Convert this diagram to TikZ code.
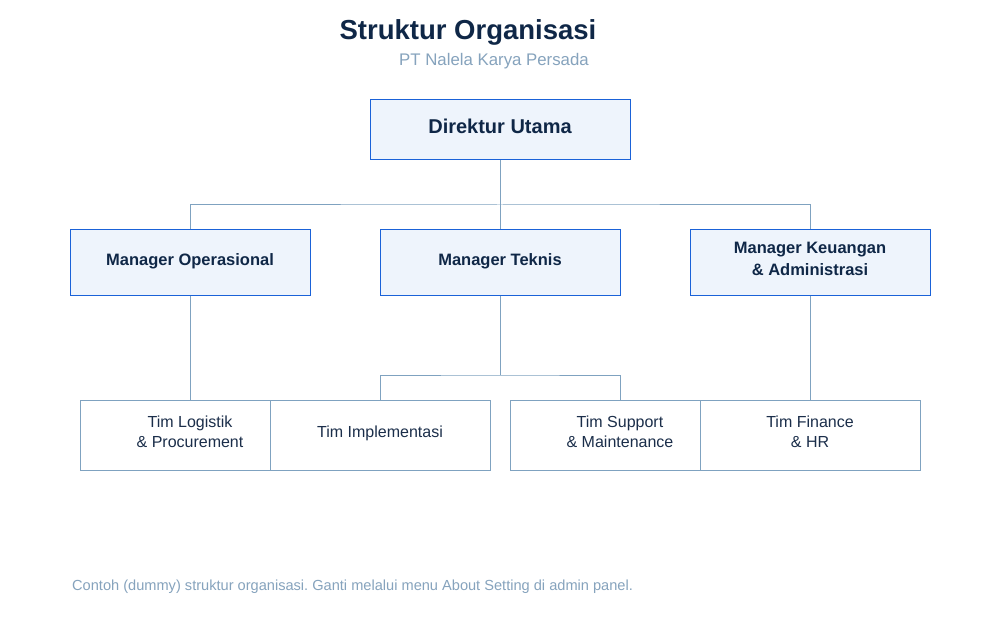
\documentclass[tikz,border=0pt]{standalone}
\usepackage{fontspec}
\setmainfont{Liberation Sans}
\frenchspacing
\definecolor{navy}{HTML}{0F2747}
\definecolor{boxfill}{HTML}{EEF4FC}
\definecolor{boxline}{HTML}{1A62D8}
\definecolor{conn}{HTML}{7FA2C0}
\definecolor{subtle}{HTML}{86A3BD}
\definecolor{teamtext}{HTML}{1B2E4A}
\newcommand{\lift}[2]{\raisebox{#1}[\height][\depth]{#2}}
\newcommand{\twoline}[3]{\lift{#1}{\begin{tabular}{@{}c@{}}#2\\#3\end{tabular}}}
\begin{document}
\begin{tikzpicture}[x=1pt,y=-1pt,
  topbox/.style={draw=boxline,fill=boxfill,line width=1pt,inner sep=0pt,align=center,text=navy,font=\bfseries\fontsize{16.5}{22}\selectfont},
  teambox/.style={draw=conn,fill=white,line width=1pt,inner sep=0pt,minimum width=220pt,minimum height=70pt,align=center,text=teamtext,font=\fontsize{16}{20}\selectfont},
  link/.style={draw=conn,line width=1pt}]
\useasboundingbox (0,0) rectangle (1000,620);
\fill[white] (0,0) rectangle (1000,620);
% titles
\node[font=\bfseries\fontsize{27.5}{32}\selectfont,text=navy] (title) at (468,32) {Struktur Organisasi};
\node[font=\fontsize{16.8}{20}\selectfont,text=subtle] (sub) at (494,61) {PT Nalela Karya Persada};
% top
\node[topbox,minimum width=260pt,minimum height=60pt,font=\bfseries\fontsize{20}{24}\selectfont] (dir) at (500,130) {\lift{4pt}{Direktur Utama}};
\node[topbox,minimum width=240pt,minimum height=65pt] (mop) at (190,262.5) {\lift{1pt}{Manager Operasional}};
\node[topbox,minimum width=240pt,minimum height=65pt] (mtk) at (500,262.5) {\lift{1pt}{Manager Teknis}};
\node[topbox,minimum width=240pt,minimum height=65pt] (mku) at (810,262.5) {\twoline{2pt}{Manager Keuangan}{\& Administrasi}};
% teams
\node[teambox] (tlog) at (190,435) {\twoline{2pt}{Tim Logistik}{\& Procurement}};
\node[teambox] (timp) at (380,435) {\lift{2pt}{Tim Implementasi}};
\node[teambox] (tsup) at (620,435) {\twoline{2pt}{Tim Support}{\& Maintenance}};
\node[teambox] (tfin) at (810,435) {\twoline{2pt}{Tim Finance}{\& HR}};
% connectors
\coordinate (j1) at (500,205);
\coordinate (j2) at (500,375);
\draw[link] (dir.south) -- (j1);
\draw[link] (mop.north) |- (j1) -| (mku.north);
\draw[link] (j1) -- (mtk.north);
\draw[link] (mop.south) -- (tlog.north);
\draw[link] (mtk.south) -- (j2);
\draw[link] (timp.north) |- (j2) -| (tsup.north);
\draw[link] (mku.south) -- (tfin.north);
% footer
\node[anchor=west,font=\fontsize{14.6}{18}\selectfont,text=subtle,inner sep=0pt] (foot) at (72,587) {Contoh (dummy) struktur organisasi. Ganti melalui menu About Setting di admin panel.};
\end{tikzpicture}
\end{document}
